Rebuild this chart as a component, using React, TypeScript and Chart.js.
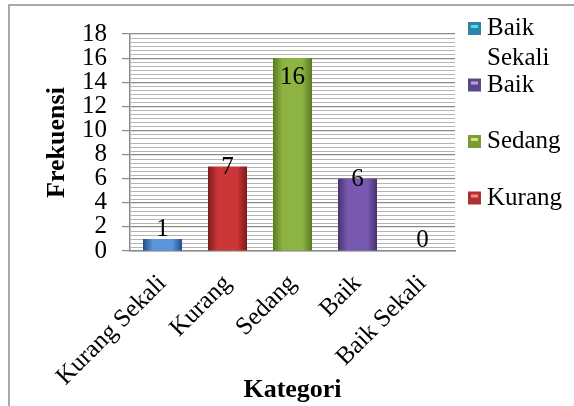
import { useEffect, useRef } from 'react';
import { Chart, registerables } from 'chart.js';

Chart.register(...registerables);

const categories = ['Kurang Sekali', 'Kurang', 'Sedang', 'Baik', 'Baik Sekali'];
const frekuensi = [1, 7, 16, 6, 0];
const yMin = 0;
const yMax = 18;
const yStep = 2;
const minorPerStep = 6;

const legendLabels = [['Baik', 'Sekali'], ['Baik'], ['Sedang'], ['Kurang']];
const legendColors = ['#2b86a6', '#5c4889', '#7a9b36', '#b12f2f'];
const legendHighlights = ['#63d2ec', '#b9a3e2', '#cde585', '#f08a8a'];

const barEdge = ['#224f8a', '#7a1b1b', '#587a1f', '#48326f', '#999999'];
const barMid = ['#5b95da', '#cc3636', '#8db343', '#7859b1', '#cccccc'];

const FONT = "'Liberation Serif', 'Times New Roman', serif";

export default function App() {
  const ref = useRef<HTMLCanvasElement>(null);

  useEffect(() => {
    document.body.style.margin = '0';
    const canvas = ref.current;
    if (!canvas) return;

    const framePlugin = {
      id: 'frame',
      beforeDraw(chart: any) {
        const ctx = chart.ctx;
        ctx.save();
        ctx.fillStyle = '#ffffff';
        ctx.fillRect(0, 0, chart.width, chart.height);
        ctx.strokeStyle = '#8c8c8c';
        ctx.lineWidth = 1.5;
        ctx.beginPath();
        ctx.moveTo(9, chart.height);
        ctx.lineTo(9, 5);
        ctx.lineTo(chart.width, 5);
        ctx.stroke();
        ctx.restore();
      },
    };

    const minorGridPlugin = {
      id: 'minorGrid',
      beforeDatasetsDraw(chart: any) {
        const ctx = chart.ctx;
        const y = chart.scales.y;
        const area = chart.chartArea;
        const n = ((yMax - yMin) / yStep) * minorPerStep;
        ctx.save();
        ctx.strokeStyle = '#b4b4b4';
        ctx.lineWidth = 1;
        for (let i = 1; i < n; i++) {
          if (i % minorPerStep === 0) continue;
          const v = yMin + (i * yStep) / minorPerStep;
          const py = Math.round(y.getPixelForValue(v)) + 0.5;
          ctx.beginPath();
          ctx.moveTo(area.left + 1, py);
          ctx.lineTo(area.right, py);
          ctx.stroke();
        }
        ctx.restore();
      },
    };

    const labelShift = [-10, 1, 19, 1, -11];
    const dataLabelPlugin = {
      id: 'dataLabels',
      afterDatasetsDraw(chart: any) {
        const ctx = chart.ctx;
        const meta = chart.getDatasetMeta(0);
        ctx.save();
        ctx.fillStyle = '#000000';
        ctx.font = `25px ${FONT}`;
        ctx.textAlign = 'center';
        ctx.textBaseline = 'middle';
        meta.data.forEach((bar: any, i: number) => {
          ctx.fillText(String(frekuensi[i]), bar.x, bar.y + labelShift[i]);
        });
        ctx.restore();
      },
    };

    const legendPlugin = {
      id: 'customLegend',
      afterDraw(chart: any) {
        const ctx = chart.ctx;
        const area = chart.chartArea;
        const boxX = area.right + 13;
        const textX = boxX + 19;
        const firstBaseline = 35;
        const itemStep = 56.5;
        const lineStep = 30;
        ctx.save();
        ctx.font = `25px ${FONT}`;
        ctx.textAlign = 'left';
        ctx.textBaseline = 'alphabetic';
        legendLabels.forEach((lines, i) => {
          const base = firstBaseline + i * itemStep;
          const bx = boxX;
          const by = base - 13;
          ctx.fillStyle = legendColors[i];
          ctx.fillRect(bx, by, 13, 13);
          ctx.fillStyle = legendHighlights[i];
          ctx.fillRect(bx + 3, by + 3, 7, 3);
          ctx.fillStyle = '#000000';
          lines.forEach((t, j) => {
            ctx.fillText(t, textX, base + j * lineStep);
          });
        });
        ctx.restore();
      },
    };

    const chart = new Chart(canvas, {
      type: 'bar',
      data: {
        labels: categories,
        datasets: [
          {
            data: frekuensi,
            barPercentage: 0.6,
            categoryPercentage: 1,
            borderWidth: 0,
            backgroundColor: (c: any) => {
              const ch = c.chart;
              const i = c.dataIndex ?? 0;
              const xs = ch.scales?.x;
              if (!ch.chartArea || !xs) return barMid[i];
              const cx = xs.getPixelForValue(i);
              const w = (xs.width / categories.length) * 0.6;
              const g = ch.ctx.createLinearGradient(cx - w / 2, 0, cx + w / 2, 0);
              g.addColorStop(0, barEdge[i]);
              g.addColorStop(0.25, barMid[i]);
              g.addColorStop(0.75, barMid[i]);
              g.addColorStop(1, barEdge[i]);
              return g;
            },
          },
        ],
      },
      options: {
        responsive: false,
        animation: false,
        layout: { padding: { left: 42, right: 119, top: 34, bottom: 0 } },
        plugins: {
          legend: { display: false },
          tooltip: { enabled: false },
        },
        scales: {
          x: {
            grid: { display: false, drawTicks: false },
            border: { display: true, color: '#8a8a8a', width: 1.5 },
            ticks: {
              color: '#000000',
              font: { family: FONT, size: 25 },
              minRotation: 45,
              maxRotation: 45,
              autoSkip: false,
              padding: 18,
            },
            title: {
              display: true,
              text: 'Kategori',
              color: '#000000',
              font: { family: FONT, size: 26, weight: 'bold' },
              padding: { top: 1, bottom: 0 },
            },
            afterFit: (s: any) => {
              s.height = 155;
            },
          },
          y: {
            min: yMin,
            max: yMax,
            ticks: {
              stepSize: yStep,
              autoSkip: false,
              color: '#000000',
              font: { family: FONT, size: 25 },
              padding: 15,
            },
            grid: { color: '#8a8a8a', tickLength: 8, lineWidth: 1.2 },
            border: { color: '#8a8a8a', width: 1.5 },
            title: {
              display: true,
              text: 'Frekuensi',
              color: '#000000',
              font: { family: FONT, size: 26, weight: 'bold' },
              padding: { top: 0, bottom: 0 },
            },
            afterFit: (s: any) => {
              s.width = 88;
            },
          },
        },
      },
      plugins: [framePlugin, minorGridPlugin, dataLabelPlugin, legendPlugin],
    });

    return () => chart.destroy();
  }, []);

  return (
    <div style={{ width: 574, height: 406 }}>
      <canvas ref={ref} width={574} height={406} style={{ display: 'block' }} />
    </div>
  );
}
